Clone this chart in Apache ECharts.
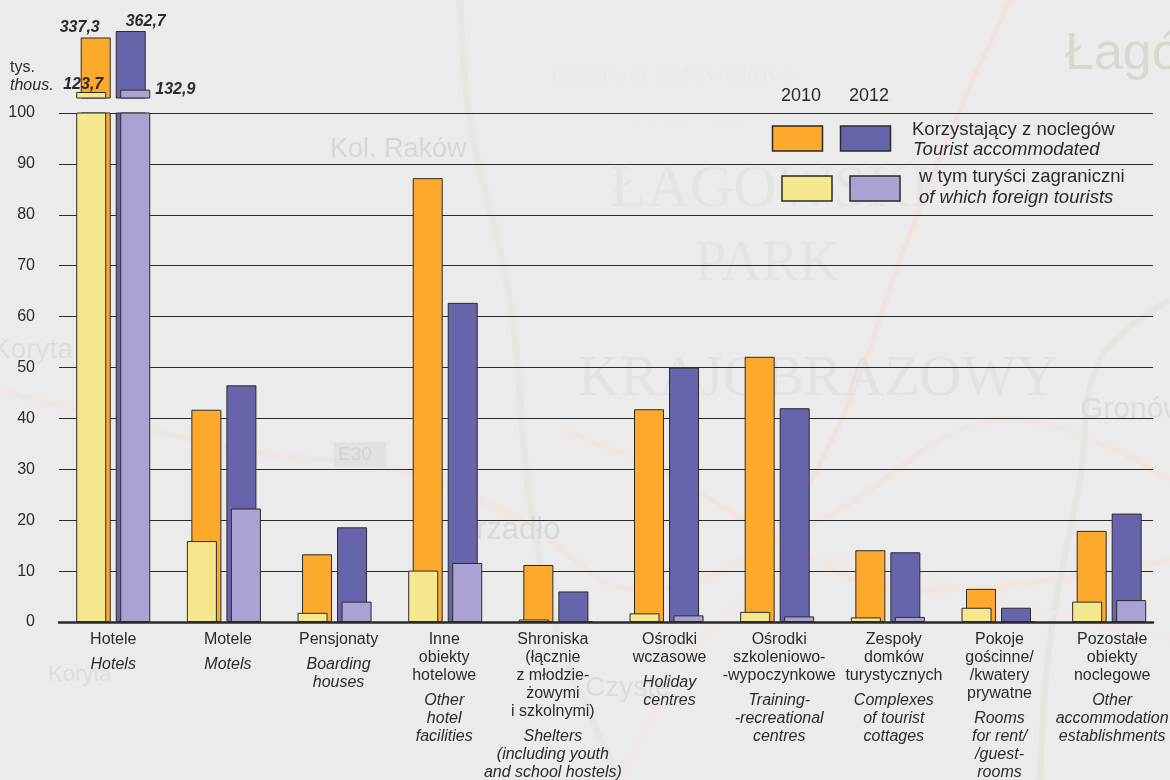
<!DOCTYPE html>
<html lang="pl">
<head>
<meta charset="UTF-8">
<title>Korzystający z noclegów</title>
<script src="https://cdn.jsdelivr.net/npm/echarts@6/dist/echarts.min.js"></script>
<style>
    html, body { margin: 0; padding: 0; background: #ebebeb; }
    #chart { width: 1170px; height: 780px; }
</style>
</head>
<body>
<div id="chart"></div>
<script>
var labelsPl = ['Hotele', 'Motele', 'Pensjonaty', 'Inne\nobiekty\nhotelowe',
    'Shroniska\n(łącznie\nz młodzie-\nżowymi\ni szkolnymi)', 'Ośrodki\nwczasowe',
    'Ośrodki\nszkoleniowo-\n-wypoczynkowe', 'Zespoły\ndomków\nturystycznych',
    'Pokoje\ngościnne/\n/kwatery\nprywatne', 'Pozostałe\nobiekty\nnoclegowe'];
var labelsEn = ['Hotels', 'Motels', 'Boarding\nhouses', 'Other\nhotel\nfacilities',
    'Shelters\n(including youth\nand school hostels)', 'Holiday\ncentres',
    'Training-\n-recreational\ncentres', 'Complexes\nof tourist\ncottages',
    'Rooms\nfor rent/\n/guest-\nrooms', 'Other\naccommodation\nestablishments'];
var yTicks = [0, 10, 20, 30, 40, 50, 60, 70, 80, 90, 100];

var tourists2010 = [337.3, 41.7, 13.3, 87.2, 11.2, 41.8, 52.1, 14.1, 6.5, 17.9];
var tourists2012 = [362.7, 46.5, 18.6, 62.7, 6.0, 50.0, 42.0, 13.7, 2.8, 21.3];
var foreign2010 = [123.7, 15.9, 1.8, 10.1, 0.5, 1.7, 2.0, 0.9, 2.8, 4.0];
var foreign2012 = [132.9, 22.3, 4.0, 11.6, 0.1, 1.3, 1.1, 1.0, 0.1, 4.3];

// horizontal shift of each category caption in the original, px
var labelShift = [0, 4, 4, -1, -3, 3, 2, 6, 1, 3];

var dark = '#2b2b2b';
var fontName = '"Liberation Sans", Arial, sans-serif';
var colors = { o: '#fda92b', p: '#6764ab', y: '#f5e78e', l: '#a9a2d2' };

var rich = { gap: { fontSize: 1, lineHeight: 7 } };
labelsPl.forEach(function (v, i) {
    var s = labelShift[i] * 2;
    var pad = s >= 0 ? [0, 0, 0, s] : [0, -s, 0, 0];
    rich['pl' + i] = { fontSize: 16, lineHeight: 18, color: dark, fontFamily: fontName, padding: pad };
    rich['en' + i] = { fontSize: 16, lineHeight: 18, color: dark, fontFamily: fontName, fontStyle: 'italic', padding: pad };
});

function captionOf(value, index) {
    var pl = labelsPl[index].split('\n').map(function (t) { return '{pl' + index + '|' + t + '}'; });
    var en = labelsEn[index].split('\n').map(function (t) { return '{en' + index + '|' + t + '}'; });
    return pl.join('\n') + '\n{gap| }\n' + en.join('\n');
}
function aboveBreak(arr) {
    return arr.map(function (v) { return v > 100 ? v : null; });
}
function comma(p) {
    return String(p.value).replace('.', ',');
}
function hiddenCat(grid) {
    return { type: 'category', gridIndex: grid, data: labelsPl, show: false };
}
function bar(name, data, color, x, y, z, gap, label) {
    return {
        name: name, type: 'bar', data: data, xAxisIndex: x, yAxisIndex: y, z: z,
        barWidth: 30, barGap: gap, silent: true,
        itemStyle: { color: color, borderColor: dark, borderWidth: 1 },
        label: label || { show: false }
    };
}
function valueLabel(position, dx, dy) {
    return {
        show: true, position: position, offset: [dx, dy], formatter: comma,
        fontFamily: fontName, fontSize: 16, fontWeight: 'bold', fontStyle: 'italic', color: dark
    };
}
function word(x, y, text, size, color, family) {
    return {
        type: 'text', silent: true, z: -5, x: x, y: y,
        style: { text: text, font: size + 'px ' + (family || fontName), fill: color, textVerticalAlign: 'middle' }
    };
}
function road(points, color, width) {
    return {
        type: 'polyline', silent: true, z: -8,
        shape: { points: points, smooth: 0.4 },
        style: { stroke: color, lineWidth: width, fill: null }
    };
}
function swatch(x, y, color) {
    return {
        type: 'rect', silent: true, z: 10,
        shape: { x: x, y: y, width: 50, height: 25 },
        style: { fill: color, stroke: dark, lineWidth: 1.5 }
    };
}
function legendText(x, y, text, italic, size) {
    return {
        type: 'text', silent: true, z: 10, x: x, y: y,
        style: {
            text: text, fill: dark, textVerticalAlign: 'middle',
            font: (italic ? 'italic ' : '') + (size || 18) + 'px ' + fontName
        }
    };
}

var serif = '"Liberation Serif", serif';
var option = {
    backgroundColor: '#ebebeb',
    animation: false,
    textStyle: { fontFamily: fontName },
    grid: [
        { left: 59, width: 1094, top: 113, height: 509, outerBoundsMode: 'none' },
        { left: 57.9, width: 1106.6, top: 113, height: 509, outerBoundsMode: 'none' },
        { left: 57.9, width: 1106.6, top: 21.5, height: 76.5, outerBoundsMode: 'none' }
    ],
    xAxis: [
        {
            type: 'value', gridIndex: 0, min: 0, max: 1, z: 10,
            axisLine: { show: true, onZero: false, lineStyle: { color: dark, width: 2.5 } },
            axisTick: { show: false }, axisLabel: { show: false }, splitLine: { show: false }
        },
        {
            type: 'category', gridIndex: 1, data: labelsPl,
            axisLine: { show: false }, axisTick: { show: false },
            axisLabel: {
                interval: 0, margin: 9, hideOverlap: false, align: 'center', verticalAlign: 'top',
                formatter: captionOf, rich: rich
            }
        },
        hiddenCat(1),
        hiddenCat(2),
        hiddenCat(2)
    ],
    yAxis: [
        {
            type: 'value', gridIndex: 0, min: 0, max: 100, interval: 10,
            axisLine: { show: false }, axisTick: { show: false },
            axisLabel: {
                margin: 24, fontSize: 16, color: dark, fontFamily: fontName,
                customValues: yTicks
            },
            splitLine: { show: true, lineStyle: { color: dark, width: 1.2 } }
        },
        { type: 'value', gridIndex: 1, min: 0, max: 100, show: false },
        { type: 'value', gridIndex: 2, min: 100, max: 400, show: false }
    ],
    series: [
        bar('Korzystający 2010', tourists2010, colors.o, 1, 1, 2, '16.7%'),
        bar('Korzystający 2012', tourists2012, colors.p, 1, 1, 2, '16.7%'),
        bar('Zagraniczni 2010', foreign2010, colors.y, 2, 1, 3, '46.7%'),
        bar('Zagraniczni 2012', foreign2012, colors.l, 2, 1, 3, '46.7%'),
        bar('Korzystający 2010 >100', aboveBreak(tourists2010), colors.o, 3, 2, 2, '16.7%', valueLabel('top', -16, 3.5)),
        bar('Korzystający 2012 >100', aboveBreak(tourists2012), colors.p, 3, 2, 2, '16.7%', valueLabel('top', 15, 3.5)),
        bar('Zagraniczni 2010 >100', aboveBreak(foreign2010), colors.y, 4, 2, 3, '46.7%', valueLabel('top', -8, 6)),
        bar('Zagraniczni 2012 >100', aboveBreak(foreign2012), colors.l, 4, 2, 3, '46.7%', valueLabel('right', 0, -4))
    ],
    graphic: [
        // faded map behind the chart
        road([[1170, 480], [1000, 420], [820, 520], [640, 590], [520, 520], [400, 470], [240, 450], [0, 390]], '#f0e6e0', 6),
        road([[560, 430], [660, 470], [780, 540], [900, 590], [1170, 560]], '#f1e5dc', 5),
        road([[460, 0], [470, 120], [510, 300], [530, 500], [560, 640], [620, 780]], '#e4e8e0', 7),
        road([[1170, 300], [1100, 360], [1080, 480], [1050, 640], [1040, 780]], '#e4e7e0', 6),
        road([[1010, 0], [960, 110], [900, 260], [850, 400], [790, 520]], '#f1e3db', 5),
        road([[620, 780], [720, 620], [840, 560], [1000, 600], [1170, 640]], '#f0e8e5', 6),
        {
            type: 'rect', silent: true, z: -6,
            shape: { x: 334, y: 442, width: 52, height: 25 },
            style: { fill: '#dfe2df' }
        },
        word(338, 455, 'E30', 19, '#cfd3cf'),
        word(330, 150, 'Kol. Raków', 27, '#d7d7d7'),
        word(610, 190, 'ŁAGOWSKI', 60, '#e2e5e2', serif),
        word(695, 265, 'PARK', 56, '#e2e5e2', serif),
        word(578, 380, 'KRAJOBRAZOWY', 58, '#e1e3e1', serif),
        word(1065, 55, 'Łagów', 52, '#d8d8ce'),
        word(1080, 410, 'Gronów', 30, '#dcdcdc'),
        word(-8, 350, 'Koryta', 28, '#dddddd'),
        word(48, 675, 'Koryta', 22, '#dddddd'),
        word(476, 530, 'rzadło', 31, '#d9d9d9'),
        word(585, 688, 'Czyste', 28, '#dcdcdc'),
        word(550, 75, 'Rezerwat torfowiskowy', 26, '#efe6e4', serif),
        word(618, 118, 'Pawski Ług', 26, '#efe8e6', serif),
        // legend
        legendText(781, 96, '2010'),
        legendText(849, 96, '2012'),
        swatch(772.5, 126, colors.o),
        swatch(840.5, 126, colors.p),
        swatch(782, 176, colors.y),
        swatch(850, 176, colors.l),
        legendText(912, 130, 'Korzystający z noclegów', false, 18.5),
        legendText(913, 150, 'Tourist accommodated', true, 18.5),
        legendText(919, 177, 'w tym turyści zagraniczni', false, 18.5),
        legendText(919, 198, 'of which foreign tourists', true, 18.5),
        // unit
        legendText(10, 68, 'tys.', false, 16),
        legendText(10, 86, 'thous.', true, 16)
    ]
};

var myChart = echarts.init(document.getElementById('chart'));
myChart.setOption(option);
</script>
</body>
</html>
